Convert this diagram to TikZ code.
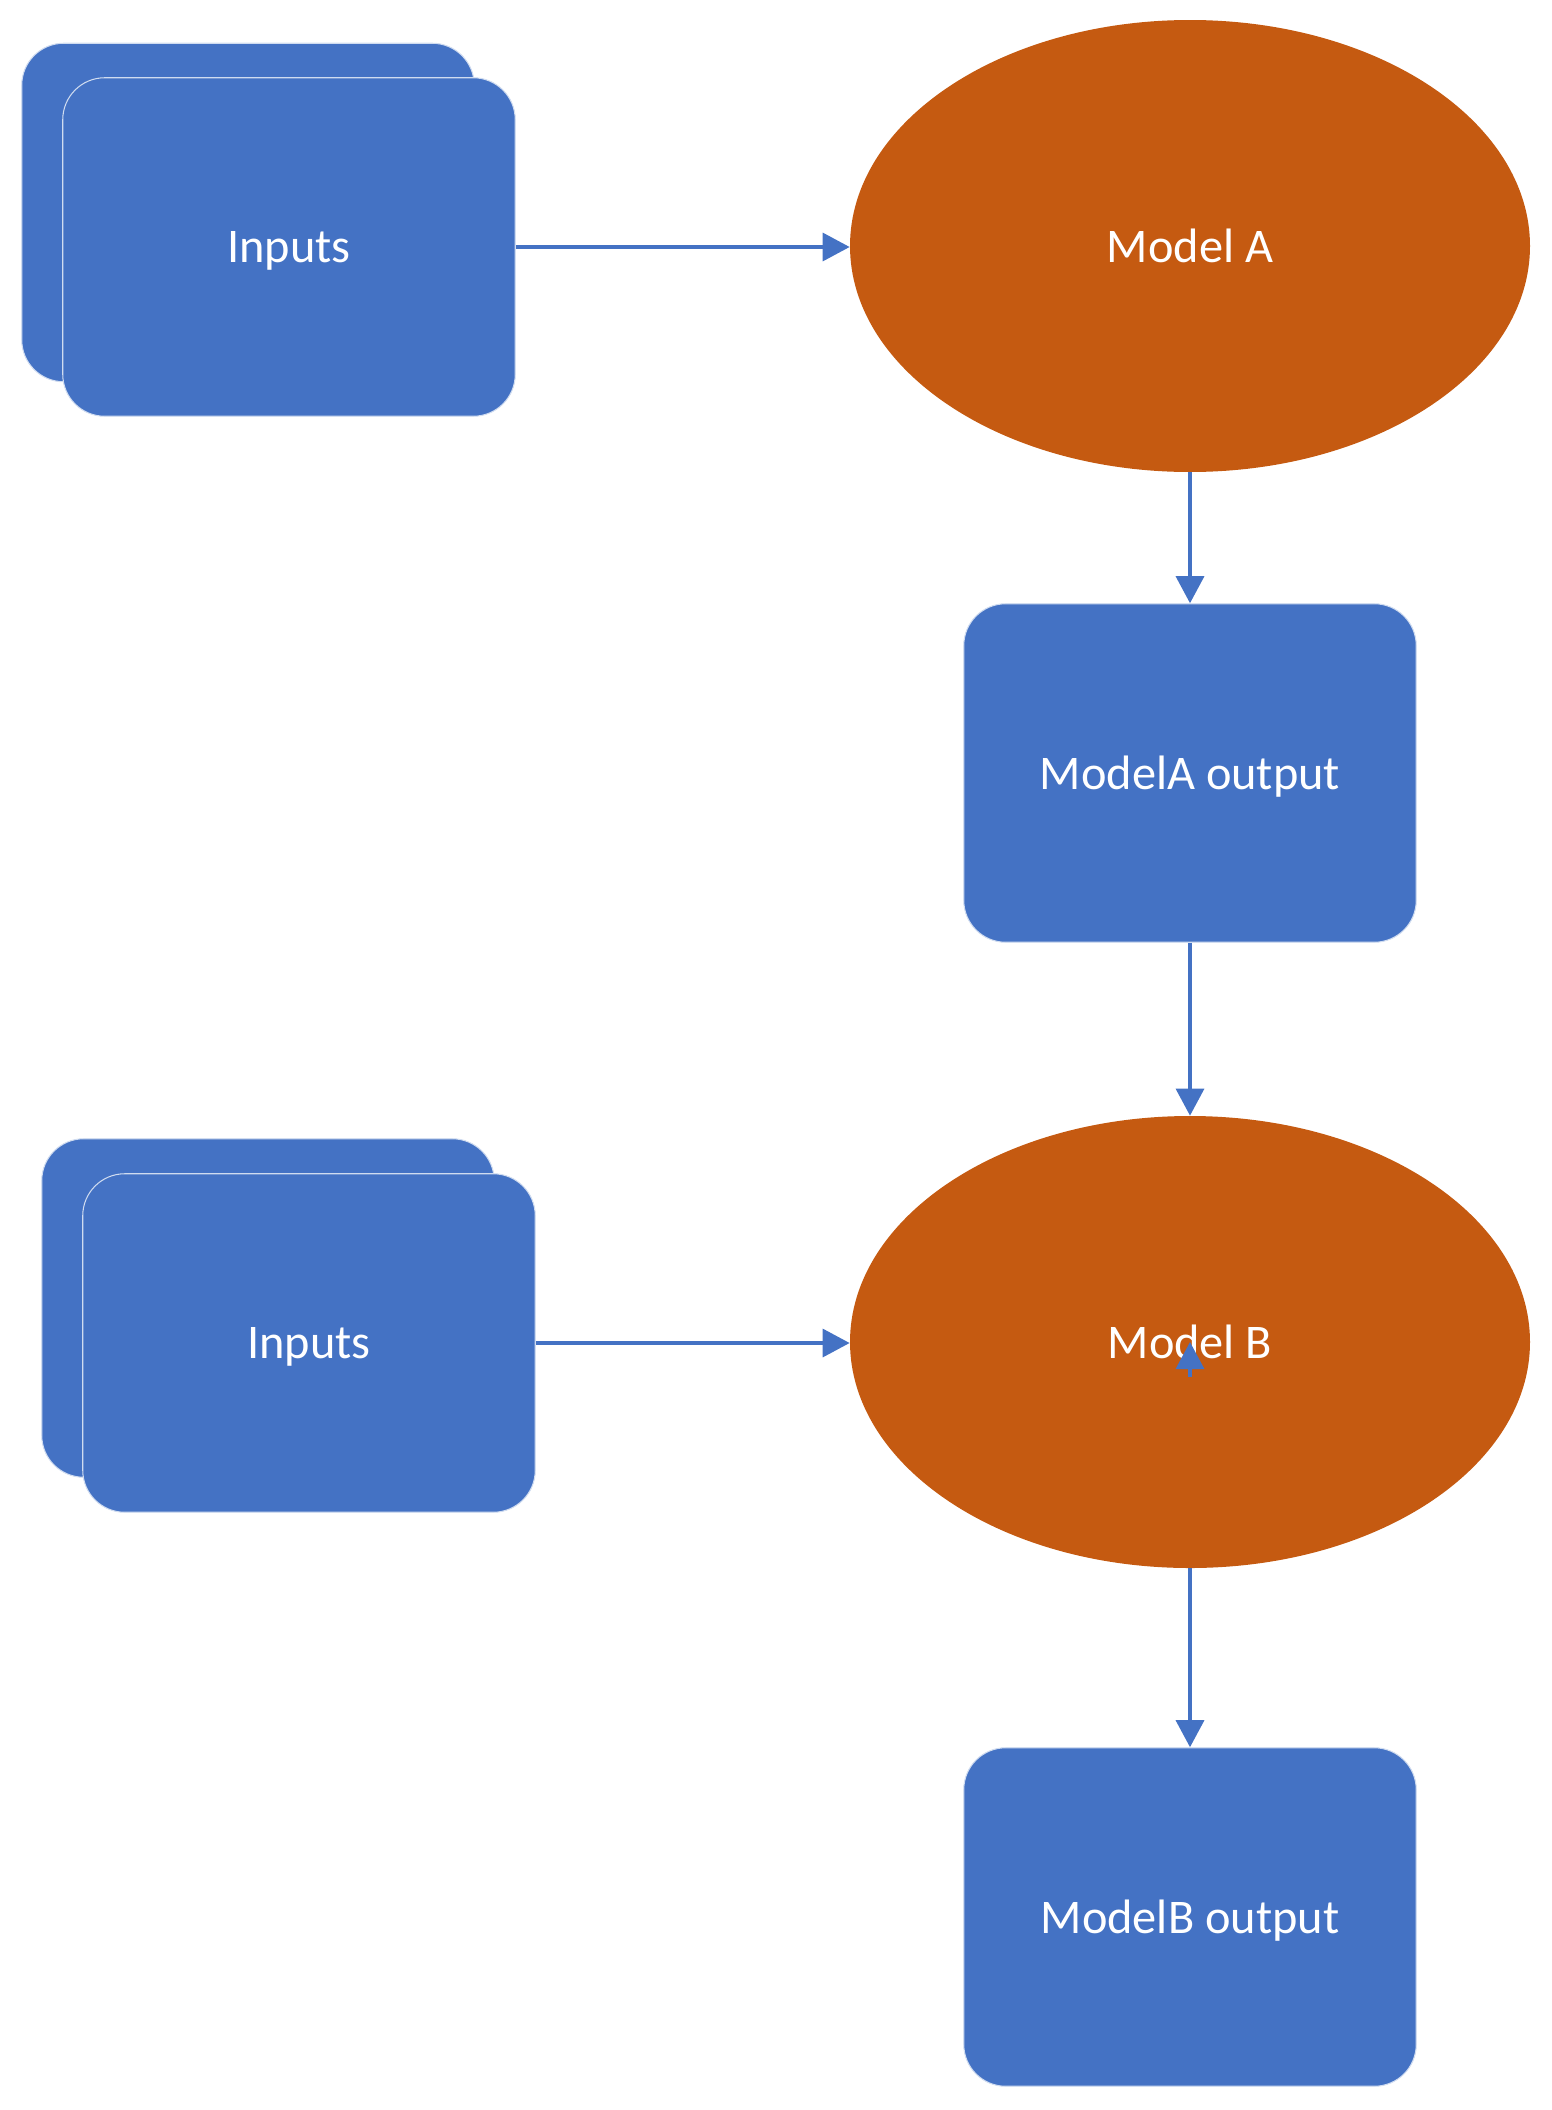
\documentclass[tikz,border=0pt]{standalone}
\usepackage{fontspec}
\setmainfont{Carlito}
\usetikzlibrary{shapes.geometric,arrows.meta}
\definecolor{boxblue}{HTML}{4472C4}
\definecolor{modelorange}{HTML}{C55A11}
\begin{document}
\begin{tikzpicture}[
  card/.style={fill=boxblue, draw=white!75!boxblue, line width=0.6pt, rounded corners=0.84cm,
    minimum width=9.05cm, minimum height=6.77cm, text=white, text depth=0pt,
    font=\fontsize{27.5}{31}\selectfont},
  model/.style={ellipse, fill=modelorange, minimum width=13.6cm, minimum height=9.04cm, inner sep=0pt,
    text=white, text depth=0pt, font=\fontsize{27.5}{31}\selectfont},
  link/.style={draw=boxblue, line width=1.9pt, -{Triangle[length=0.54cm,width=0.56cm]}}]
\useasboundingbox (0,0) rectangle (31.02,-42.2);
\node[card] (inputsAback) at (4.96,-4.25) {};
\node[card] (inputsA) at (5.78,-4.94) {Inputs};
\node[model] (modelA) at (23.8,-4.92) {Model A};
\node[card] (outA) at (23.8,-15.46) {ModelA output};
\node[card] (inputsBback) at (5.36,-26.16) {};
\node[card] (inputsB) at (6.18,-26.86) {Inputs};
\node[model] (modelB) at (23.8,-26.84) {Model B};
\node[card] (outB) at (23.8,-38.34) {ModelB output};
\draw[link] (inputsA.east) -- (inputsA.east -| modelA.west);
\draw[link] (modelA.south) -- (outA.north);
\draw[link] (outA.south) -- (modelB.north);
\draw[link] (inputsB.east) -- (inputsB.east -| modelB.west);
\draw[link] (modelB.south) -- (outB.north);
\coordinate (stub) at (23.8,-27.54);
\draw[link] (stub) -- (modelB.center);
\end{tikzpicture}
\end{document}
